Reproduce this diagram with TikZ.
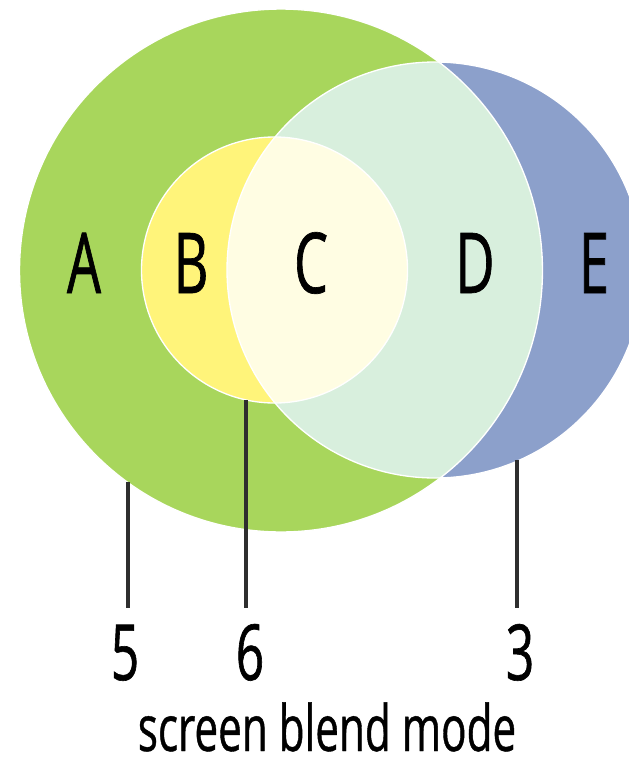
\documentclass[tikz,border=0pt]{standalone}
\usepackage{fontspec}
\newfontfamily\cond[FakeStretch=0.64,FakeBold=0.8]{Open Sans}
\newfontfamily\condcap[FakeStretch=0.66,FakeBold=0.6]{Open Sans}
\definecolor{cA}{HTML}{A8D65C}
\definecolor{cB}{HTML}{FFF47A}
\definecolor{cC}{HTML}{FFFDE3}
\definecolor{cD}{HTML}{D8EFDD}
\definecolor{cE}{HTML}{8CA0CB}
\definecolor{cline}{HTML}{2E2E2E}
\tikzset{
  region/.style={font=\cond\fontsize{63}{63}\selectfont, anchor=base, inner sep=0pt},
  num/.style={font=\cond\fontsize{58}{58}\selectfont, anchor=base, inner sep=0pt},
  caption/.style={font=\condcap\fontsize{48}{48}\selectfont, anchor=base, inner sep=0pt, text depth=0pt},
  leader/.style={draw=cline, line width=3pt},
  rim/.style={draw=white, line width=1pt}
}
\begin{document}
\begin{tikzpicture}[x=0.75pt,y=-0.75pt]
\useasboundingbox (0,0) rectangle (629,765);
\clip (0,0) rectangle (629,765);
\coordinate (g) at (281,270.5);
\coordinate (y) at (274.5,270);
\coordinate (b) at (435,270);
\def\rg{196.1pt}
\def\ry{99.75pt}
\def\rb{156pt}
% base fills
\fill[cA] (g) circle[radius=\rg];
\fill[cB] (y) circle[radius=\ry];
\fill[cE] (b) circle[radius=\rb];
\begin{scope}
  \clip (g) circle[radius=\rg];
  \fill[cD] (b) circle[radius=\rb];
\end{scope}
\begin{scope}
  \clip (y) circle[radius=\ry];
  \fill[cC] (b) circle[radius=\rb];
\end{scope}
% outlines
\draw[rim] (g) circle[radius=\rg];
\draw[rim] (y) circle[radius=\ry];
\draw[rim] (b) circle[radius=\rb];
% region labels
\node[region] (A) at (84,293) {A};
\node[region] (B) at (191,293) {B};
\node[region] (C) at (311,293) {C};
\node[region] (D) at (475,293) {D};
\node[region] (E) at (594,293) {E};
% numbers
\node[num] (n5) at (125,680) {5};
\node[num] (n6) at (250,680) {6};
\node[num] (n3) at (520,680) {3};
\node[caption] (cap) at (327,751) {screen blend mode};
% leaders
\coordinate (t5) at (128,482);
\coordinate (t6) at (246,400);
\coordinate (t3) at (517,460);
\coordinate (e5) at (128,608);
\coordinate (e6) at (246,608);
\coordinate (e3) at (517,608);
\draw[leader] (t5) -- (e5);
\draw[leader] (t6) -- (e6);
\draw[leader] (t3) -- (e3);
\end{tikzpicture}
\end{document}
